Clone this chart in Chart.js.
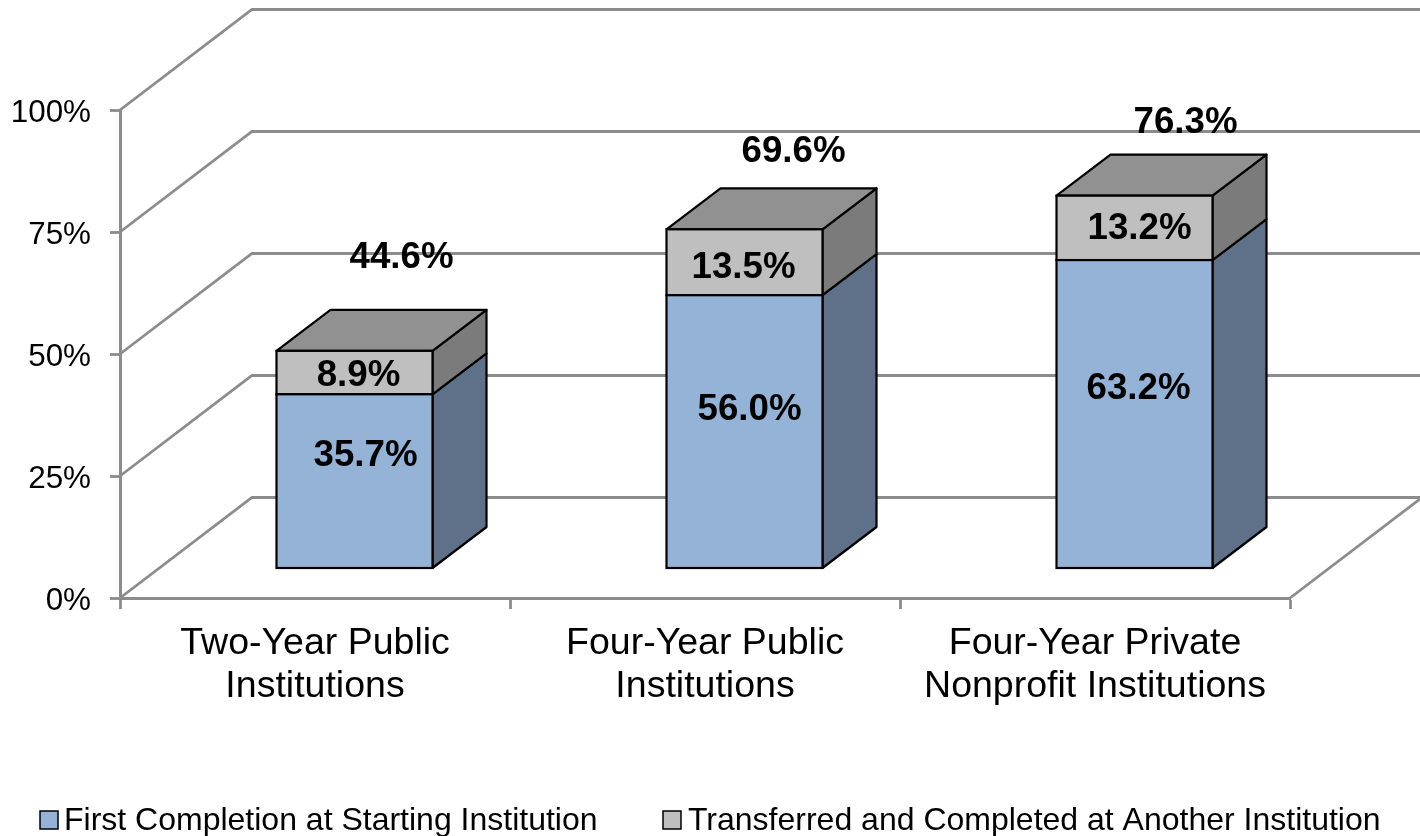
<!DOCTYPE html>
<html>
<head>
<meta charset="utf-8">
<style>html,body{margin:0;padding:0;background:#fff}#wrap{width:1420px;height:836px}</style>
<script src="https://cdn.jsdelivr.net/npm/chart.js@4"></script>
</head>
<body>
<div id="wrap"><canvas id="c" width="1420" height="836"></canvas></div>
<script>
const categories = [['Two-Year Public','Institutions'],['Four-Year Public','Institutions'],['Four-Year Private','Nonprofit Institutions']];
const firstCompletion = [35.7, 56.0, 63.2];
const transferred = [8.9, 13.5, 13.2];
const totals = [44.6, 69.6, 76.3];
const seriesNames = ['First Completion at Starting Institution','Transferred and Completed at Another Institution'];

const FONT = '"Liberation Sans", Arial, sans-serif';
const LINE = '#8c8c8c';
const WALL = {dx:132, dy:-100.5};
const FLOOR = {dx:39.5, dy:-29.5};
const DEPTH = {dx:54, dy:-41};
const SIDES = ['#5f7189','#7b7b7b'];
const TOP_FACE = '#919191';
const seg1Off = [[11,-25],[5,-22],[4,-25]];
const seg2Off = [[4,3],[-1,6],[5,1]];
const totalOff = [[47,-93],[49,-77],[51,-73]];
const legendPos = [{box:40,text:64},{box:663,text:688}];

function poly(ctx, pts, fill){
  ctx.beginPath();
  pts.forEach((p,i)=> i?ctx.lineTo(p[0],p[1]):ctx.moveTo(p[0],p[1]));
  ctx.closePath();
  ctx.fillStyle = fill; ctx.fill();
  ctx.lineWidth = 2.2; ctx.strokeStyle = '#000'; ctx.lineJoin='round'; ctx.stroke();
}

const threeD = {
  id:'threeD',
  beforeDatasetsDraw(chart){
    const {ctx, scales:{x,y}} = chart;
    ctx.save();
    ctx.strokeStyle = LINE; ctx.lineWidth = 2.8;
    [0,25,50,75,100].forEach(v=>{
      const py = y.getPixelForValue(v);
      ctx.beginPath();
      ctx.moveTo(x.left, py);
      ctx.lineTo(x.left+WALL.dx, py+WALL.dy);
      ctx.lineTo(chart.width+5, py+WALL.dy);
      ctx.stroke();
    });
    const y0 = y.getPixelForValue(0);
    ctx.beginPath();
    ctx.moveTo(x.right, y0);
    ctx.lineTo(x.right+WALL.dx, y0+WALL.dy);
    ctx.stroke();
    ctx.restore();
    // side and top faces
    ctx.save();
    ctx.translate(FLOOR.dx, FLOOR.dy);
    chart.data.datasets.forEach((ds,i)=>{
      chart.getDatasetMeta(i).data.forEach(b=>{
        const r = b.x+b.width/2, t = b.y, bt = b.base;
        poly(ctx,[[r,bt],[r+DEPTH.dx,bt+DEPTH.dy],[r+DEPTH.dx,t+DEPTH.dy],[r,t]],SIDES[i]);
        if(i===chart.data.datasets.length-1){
          const l = b.x-b.width/2;
          poly(ctx,[[l,t],[l+DEPTH.dx,t+DEPTH.dy],[r+DEPTH.dx,t+DEPTH.dy],[r,t]],TOP_FACE);
        }
      });
    });
    ctx.restore();
  },
  beforeDatasetDraw(chart){ chart.ctx.save(); chart.ctx.translate(FLOOR.dx, FLOOR.dy); },
  afterDatasetDraw(chart,args){
    const ctx = chart.ctx;
    ctx.lineWidth = 2.2; ctx.strokeStyle = '#000';
    chart.getDatasetMeta(args.index).data.forEach(b=>{
      ctx.strokeRect(b.x-b.width/2, b.y, b.width, b.base-b.y);
    });
    ctx.restore();
  },
  afterDatasetsDraw(chart){
    const {ctx} = chart;
    ctx.save();
    ctx.fillStyle='#000'; ctx.textAlign='center'; ctx.textBaseline='middle';
    ctx.font = 'bold 36.7px '+FONT;
    const m0 = chart.getDatasetMeta(0).data, m1 = chart.getDatasetMeta(1).data;
    firstCompletion.forEach((v,i)=>{
      const b=m0[i];
      ctx.fillText(v.toFixed(1)+'%', b.x+FLOOR.dx+seg1Off[i][0], (b.y+b.base)/2+FLOOR.dy+seg1Off[i][1]);
    });
    transferred.forEach((v,i)=>{
      const b=m1[i];
      ctx.fillText(v.toFixed(1)+'%', b.x+FLOOR.dx+seg2Off[i][0], (b.y+b.base)/2+FLOOR.dy+seg2Off[i][1]);
    });
    totals.forEach((v,i)=>{
      const b=m1[i];
      ctx.fillText(v.toFixed(1)+'%', b.x+FLOOR.dx+totalOff[i][0], b.y+FLOOR.dy+totalOff[i][1]);
    });
    // legend
    ctx.textAlign='left';
    ctx.font = '32px '+FONT;
    chart.data.datasets.forEach((ds,i)=>{
      ctx.fillStyle = ds.backgroundColor;
      ctx.fillRect(legendPos[i].box,811,18,18);
      ctx.strokeStyle='#000'; ctx.lineWidth=1.5;
      ctx.strokeRect(legendPos[i].box,811,18,18);
      ctx.fillStyle='#000';
      ctx.fillText(ds.label, legendPos[i].text, 821);
    });
    ctx.restore();
  }
};

new Chart(document.getElementById('c').getContext('2d'),{
  type:'bar',
  data:{
    labels:categories,
    datasets:[
      {label:seriesNames[0],data:firstCompletion,backgroundColor:'#95b3d7',borderWidth:0},
      {label:seriesNames[1],data:transferred,backgroundColor:'#bfbfbf',borderWidth:0}
    ]
  },
  plugins:[threeD],
  options:{
    responsive:false,
    animation:false,
    layout:{padding:{top:110,right:130,left:0,bottom:0}},
    datasets:{bar:{categoryPercentage:0.8,barPercentage:0.5}},
    plugins:{legend:{display:false},tooltip:{enabled:false},title:{display:false}},
    scales:{
      x:{
        stacked:true,
        afterFit(s){s.height=238;},
        grid:{drawOnChartArea:false,drawTicks:true,tickLength:11,tickWidth:2.8,tickColor:LINE},
        border:{color:LINE,width:3},
        ticks:{color:'#000',font:{family:FONT,size:37.5,lineHeight:1.147},padding:13,maxRotation:0,autoSkip:false}
      },
      y:{
        stacked:true,min:0,max:100,
        afterFit(s){s.width=120;},
        grid:{drawOnChartArea:false,drawTicks:true,tickLength:10,tickWidth:2.8,tickColor:LINE},
        border:{color:LINE,width:3},
        ticks:{stepSize:25,color:'#000',font:{family:FONT,size:31.4},padding:19,labelOffset:3,callback:v=>v+'%'}
      }
    }
  }
});
</script>
</body>
</html>
